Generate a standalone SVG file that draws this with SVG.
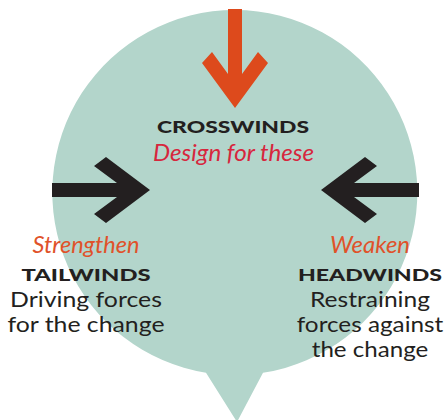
<svg xmlns="http://www.w3.org/2000/svg" width="445" height="420" viewBox="0 0 445 420">
<style>
.cap{font-family:Lato,"Noto Sans",sans-serif;font-weight:900;fill:#231f20;text-anchor:middle}
.it{font-family:Lato,"Noto Sans",sans-serif;font-style:italic;text-anchor:middle}
.body{font-family:Lato,"Noto Sans",sans-serif;font-size:21.5px;fill:#231f20;text-anchor:middle}
.blk{fill:#231f20}
</style>
<rect width="445" height="420" fill="#ffffff"/>
<g id="bubble">
<path d="M206,372.7 A182.5,182.5 0 1 1 263,372.8 L237,422 Z" fill="#b3d5cb"/>
</g>
<g id="connectors">
<polygon id="arrow-cross" points="228,9 242,9 242,74 258,52 268,63 235,108 202,63 212,52 228,74" fill="#dd4a1c"/>
<polygon id="arrow-tail" class="blk" points="52,183 117,183 94,166 106,157 150,190 106,223 94,214 117,197 52,197"/>
<polygon id="arrow-head" class="blk" points="419,183 354,183 377,166 365,157 321,190 365,223 377,214 354,197 419,197"/>
</g>
<g id="crosswinds">
<text class="cap" x="233" y="133.3" font-size="17" textLength="152" lengthAdjust="spacingAndGlyphs">CROSSWINDS</text>
<text class="it" x="233.5" y="161" font-size="22.5" fill="#d7263d" textLength="161" lengthAdjust="spacingAndGlyphs">Design for these</text>
</g>
<g id="tailwinds">
<text class="it" x="86" y="253.3" font-size="22.5" fill="#e0522a" textLength="107" lengthAdjust="spacingAndGlyphs">Strengthen</text>
<text class="cap" x="86" y="280.7" font-size="17.5" textLength="129" lengthAdjust="spacingAndGlyphs">TAILWINDS</text>
<text class="body" x="86" y="307.3" textLength="152" lengthAdjust="spacingAndGlyphs">Driving forces</text>
<text class="body" x="86" y="332.3" textLength="157" lengthAdjust="spacingAndGlyphs">for the change</text>
</g>
<g id="headwinds">
<text class="it" x="370" y="253.3" font-size="22.5" fill="#e0522a" textLength="80" lengthAdjust="spacingAndGlyphs">Weaken</text>
<text class="cap" x="370" y="280.7" font-size="17.5" textLength="144" lengthAdjust="spacingAndGlyphs">HEADWINDS</text>
<text class="body" x="370" y="307.3" textLength="120" lengthAdjust="spacingAndGlyphs">Restraining</text>
<text class="body" x="370" y="332.3" textLength="146.5" lengthAdjust="spacingAndGlyphs">forces against</text>
<text class="body" x="370" y="357.3" textLength="116.5" lengthAdjust="spacingAndGlyphs">the change</text>
</g>
</svg>
